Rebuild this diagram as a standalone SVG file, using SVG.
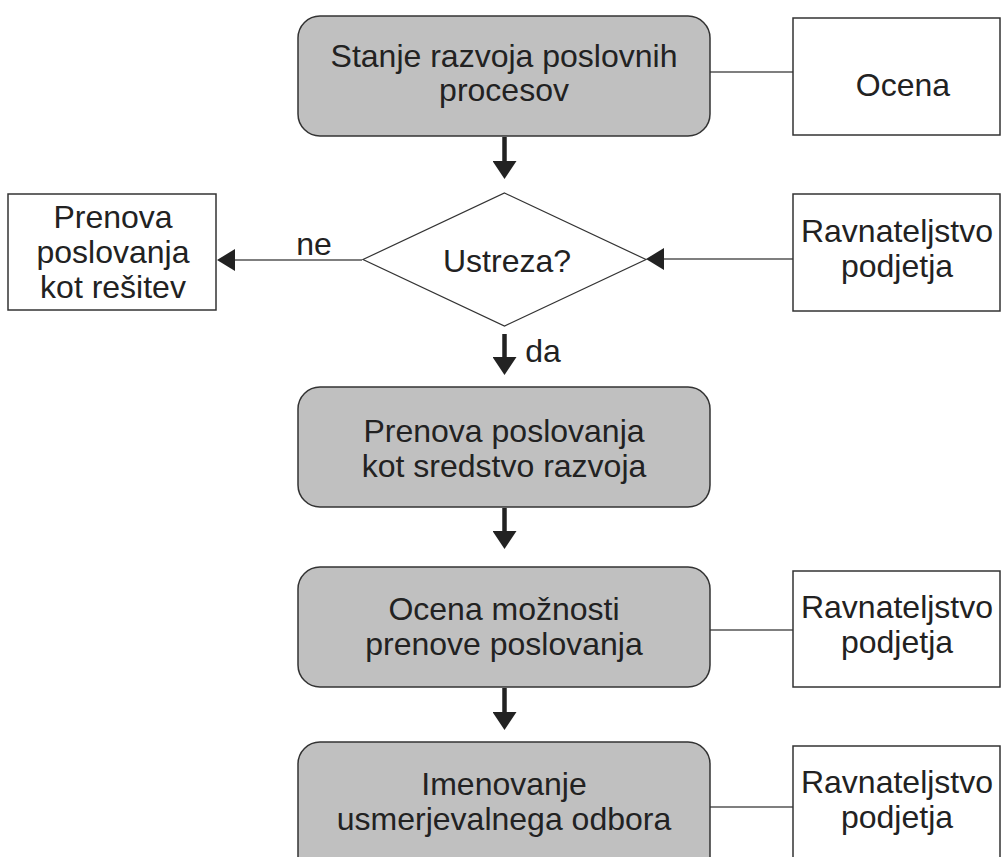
<svg xmlns="http://www.w3.org/2000/svg" width="1001" height="857" viewBox="0 0 1001 857">
<style>
.proc{fill:#c0c0c0;stroke:#333;stroke-width:1.5}
.box{fill:#fff;stroke:#333;stroke-width:1.5}
.dia{fill:#fff;stroke:#333;stroke-width:1.2}
text{font-family:"Liberation Sans",Arial,sans-serif;font-size:32px;fill:#222;text-anchor:middle}
.thick{stroke:#222;stroke-width:4.5;fill:none}
.thin{stroke:#555;stroke-width:1.5;fill:none}
</style>
<defs>
<marker id="headV" markerUnits="userSpaceOnUse" viewBox="0 0 18 24" refX="0" refY="12" markerWidth="18" markerHeight="24" orient="auto">
<path d="M0,0 L18,12 L0,24 Z" fill="#222"/>
</marker>
<marker id="headH" markerUnits="userSpaceOnUse" viewBox="0 0 18 22" refX="0" refY="11" markerWidth="18" markerHeight="22" orient="auto">
<path d="M0,0 L18,11 L0,22 Z" fill="#222"/>
</marker>
</defs>

<g id="connectors">
<line class="thick" x1="504.5" y1="137" x2="504.5" y2="161" marker-end="url(#headV)"/>
<line class="thick" x1="504.5" y1="334" x2="504.5" y2="357" marker-end="url(#headV)"/>
<line class="thick" x1="504.5" y1="508" x2="504.5" y2="531" marker-end="url(#headV)"/>
<line class="thick" x1="504.5" y1="688" x2="504.5" y2="712" marker-end="url(#headV)"/>
<line class="thin" x1="362" y1="260" x2="235" y2="260" marker-end="url(#headH)"/>
<line class="thin" x1="793" y1="259" x2="664" y2="259" marker-end="url(#headH)"/>
<line class="thin" x1="710" y1="72" x2="793" y2="72"/>
<line class="thin" x1="710" y1="630" x2="793" y2="630"/>
<line class="thin" x1="710" y1="807" x2="793" y2="807"/>
<text x="314" y="255">ne</text>
<text x="543" y="362">da</text>
</g>

<g id="n1">
<rect class="proc" x="298" y="16" width="412" height="120" rx="22" ry="22"/>
<text x="504" y="67">Stanje razvoja poslovnih</text>
<text x="504" y="101">procesov</text>
</g>

<g id="n_ocena">
<rect class="box" x="793" y="18" width="207" height="117"/>
<text x="903" y="96">Ocena</text>
</g>

<g id="n_dec">
<polygon class="dia" points="504.5,193 646,259.5 504.5,326 363,259.5"/>
<text x="507" y="272">Ustreza?</text>
</g>

<g id="n_left">
<rect class="box" x="8" y="194" width="208" height="116"/>
<text x="113" y="228">Prenova</text>
<text x="113" y="263">poslovanja</text>
<text x="113" y="298">kot rešitev</text>
</g>

<g id="n_rav1">
<rect class="box" x="793" y="194" width="207" height="117"/>
<text x="897" y="242">Ravnateljstvo</text>
<text x="897" y="277">podjetja</text>
</g>

<g id="n3">
<rect class="proc" x="298" y="387" width="412" height="120" rx="22" ry="22"/>
<text x="504" y="442">Prenova poslovanja</text>
<text x="504" y="477">kot sredstvo razvoja</text>
</g>

<g id="n4">
<rect class="proc" x="298" y="567" width="412" height="120" rx="22" ry="22"/>
<text x="504" y="620">Ocena možnosti</text>
<text x="504" y="655">prenove poslovanja</text>
</g>

<g id="n_rav2">
<rect class="box" x="793" y="571" width="207" height="116"/>
<text x="897" y="618">Ravnateljstvo</text>
<text x="897" y="653">podjetja</text>
</g>

<g id="n5">
<rect class="proc" x="298" y="742" width="412" height="140" rx="22" ry="22"/>
<text x="504" y="795">Imenovanje</text>
<text x="504" y="830">usmerjevalnega odbora</text>
</g>

<g id="n_rav3">
<rect class="box" x="793" y="746" width="207" height="140"/>
<text x="897" y="793">Ravnateljstvo</text>
<text x="897" y="828">podjetja</text>
</g>
</svg>
